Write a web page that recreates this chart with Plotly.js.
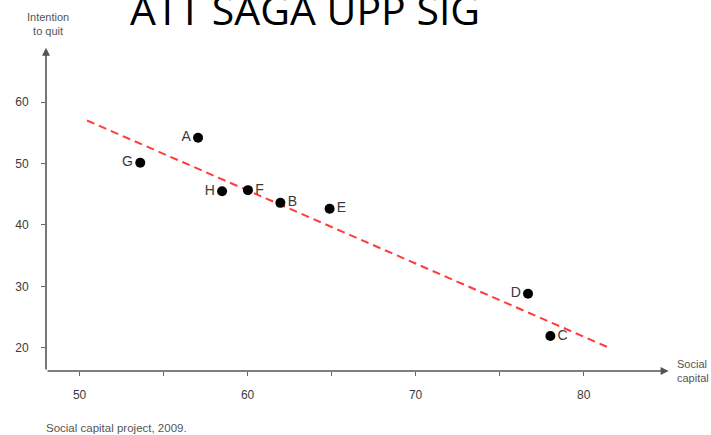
<!DOCTYPE html>
<html>
<head>
<meta charset="utf-8">
<script src="https://cdn.plot.ly/plotly-3.0.1.min.js"></script>
<style>html,body{margin:0;padding:0;background:#fff;}#chart{width:711px;height:435px;}</style>
</head>
<body>
<div id="chart"></div>
<script>
// Data
const pointLabels = ['A', 'G', 'H', 'F', 'B', 'E', 'D', 'C'];
const socialCapital = [57.05, 53.61, 58.48, 60.02, 61.95, 64.88, 76.69, 78.02];
const intentionToQuit = [54.2, 50.13, 45.5, 45.67, 43.6, 42.64, 28.8, 21.89];
const labelSide = ['middle left', 'middle left', 'middle left', 'middle right', 'middle right', 'middle right', 'middle left', 'middle right'];
const trendX = [50.44, 81.59];
const trendY = [57.02, 19.9];
const xTickVals = [50, 55, 60, 65, 70, 75, 80];
const xTickText = ['50', '', '60', '', '70', '', '80'];
const yTickVals = [20, 30, 40, 50, 60];
const yTickText = ['20', '30', '40', '50', '60'];
const xRange = [48, 85.2];
const yRange = [16.2, 69];
const axisEndX = 85.06;
const axisEndY = 68.86;

const sans = 'Liberation Sans, Arial, sans-serif';

const traces = [
  {
    type: 'scatter', mode: 'lines', x: trendX, y: trendY,
    line: {color: '#ff3b3b', width: 2, dash: '8px,5px'},
    hoverinfo: 'skip', showlegend: false
  },
  {
    type: 'scatter', mode: 'markers+text', x: socialCapital, y: intentionToQuit,
    text: pointLabels, textposition: labelSide,
    textfont: {family: sans, size: 14, color: '#3a3a3a'},
    marker: {color: '#000', size: 10},
    showlegend: false
  }
];

const layout = {
  width: 711, height: 435,
  margin: {l: 46, r: 40, t: 47, b: 64, pad: 0},
  paper_bgcolor: '#fff', plot_bgcolor: '#fff',
  showlegend: false,
  xaxis: {
    range: xRange, showgrid: false, zeroline: false, showline: false,
    tickmode: 'array', tickvals: xTickVals, ticktext: xTickText,
    ticks: 'outside', ticklen: 4, tickwidth: 1, tickcolor: '#666',
    ticklabelstandoff: 9,
    tickfont: {family: sans, size: 12, color: '#3a3a3a'}
  },
  yaxis: {
    range: yRange, showgrid: false, zeroline: false, showline: false,
    tickmode: 'array', tickvals: yTickVals, ticktext: yTickText,
    ticks: 'outside', ticklen: 4, tickwidth: 1, tickcolor: '#666',
    ticklabelstandoff: 10,
    tickfont: {family: sans, size: 12, color: '#3a3a3a'}
  },
  annotations: [
    {
      x: axisEndX, y: yRange[0], xref: 'x', yref: 'y',
      ax: xRange[0], ay: yRange[0], axref: 'x', ayref: 'y',
      text: '', showarrow: true, arrowhead: 2, arrowsize: 1, arrowwidth: 1.6, arrowcolor: '#555', standoff: 0
    },
    {
      x: xRange[0], y: axisEndY, xref: 'x', yref: 'y',
      ax: xRange[0], ay: yRange[0], axref: 'x', ayref: 'y',
      text: '', showarrow: true, arrowhead: 2, arrowsize: 1, arrowwidth: 1.6, arrowcolor: '#555', standoff: 0
    },
    {
      text: 'ATT SAGA UPP SIG', xref: 'paper', yref: 'paper',
      x: (128 - 46) / 625, y: 1.21, xanchor: 'left', yanchor: 'top',
      showarrow: false, font: {family: 'Open Sans, sans-serif', size: 41, color: '#000'}
    },
    {
      text: 'Intention<br>to quit', xref: 'paper', yref: 'paper',
      x: (48 - 46) / 625, y: 1.0725, xanchor: 'center', yanchor: 'middle',
      showarrow: false, font: {family: sans, size: 11, color: '#555'}
    },
    {
      text: 'Social<br>capital', xref: 'paper', yref: 'paper',
      x: 1.007, y: 0, xanchor: 'left', yanchor: 'middle', align: 'left',
      showarrow: false, font: {family: sans, size: 11, color: '#555'}
    },
    {
      text: 'Social capital project, 2009.', xref: 'paper', yref: 'paper',
      x: -0.004, y: -0.175, xanchor: 'left', yanchor: 'middle',
      showarrow: false, font: {family: sans, size: 11.5, color: '#555'}
    }
  ]
};

Plotly.newPlot('chart', traces, layout, {displayModeBar: false, staticPlot: true});
</script>
</body>
</html>
